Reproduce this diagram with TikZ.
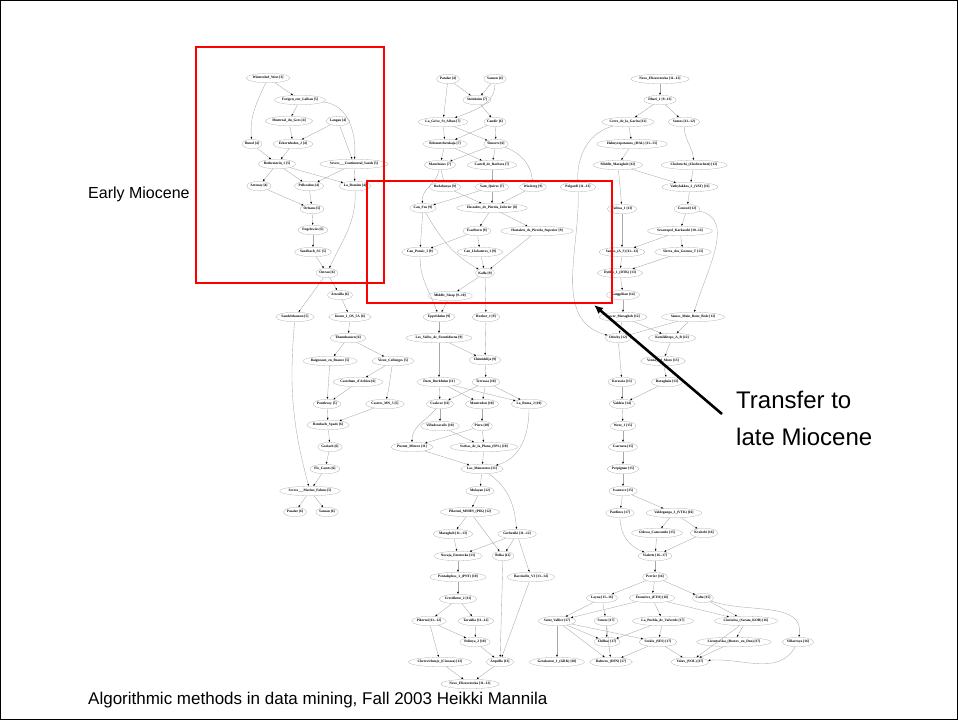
\documentclass[tikz,border=0pt]{standalone}
\usepackage{fontspec}
\setmainfont{Liberation Sans}
\newfontfamily\locfont{Liberation Serif}
\usepackage{tikz}
\usetikzlibrary{shapes.geometric, arrows.meta}
\definecolor{boxred}{HTML}{FF0000}
\definecolor{edgegray}{HTML}{A8A8A8}
\definecolor{ovalgray}{HTML}{B0B0B0}

\tikzset{
  loc/.style={ellipse, draw=ovalgray, line width=0.3pt, inner xsep=0pt, inner ysep=0.4pt,
    minimum height=9.5pt, font=\locfont\bfseries\fontsize{3.5}{3.5}\selectfont},
  link/.style={draw=edgegray, line width=0.35pt, -{Latex[length=2.2pt,width=1.8pt,color=black]}},
  period/.style={draw=boxred, line width=2.2pt},
  note/.style={anchor=west, inner sep=0pt}
}

\begin{document}
\begin{tikzpicture}[x=1pt,y=-1pt]
    \useasboundingbox (0,0) rectangle (958,720);
    \draw[black, line width=1pt] (0.5,0.5) rectangle (957.5,719.5);

    % early Miocene part
    \node[loc] (wintershof) at (268,78) {Wintershof\_West [3]};
    \node[loc] (forigen) at (300,100) {Forigen\_zur\_Laiban [5]};
    \node[loc] (montreal) at (289,121) {Montreal\_du\_Gers [4]};
    \node[loc] (langau) at (338,121) {Langau [4]};
    \node[loc] (bunol) at (252,144) {Bunol [4]};
    \node[loc] (erkert) at (293,144) {Erkertshofen\_2 [4]};
    \node[loc] (rothen) at (277,164) {Rothenstein\_1 [5]};
    \node[loc] (sevresc) at (354,164) {Sevres\_\_\_Continental\_Sands [5]};
    \node[loc] (artenay) at (259,186) {Artenay [4]};
    \node[loc] (pellec) at (309,186) {Pellecahus [4]};
    \node[loc] (romieu) at (355,186) {La\_Romieu [4]};
    \node[loc] (orleans) at (312,209) {Orleans [5]};
    \node[loc] (engels) at (313,230) {Engelswies [5]};
    \node[loc] (sandbach) at (313,252) {Sandbach\_SC [5]};
    \node[loc] (ostrau) at (327,273) {Ostrau [6]};
    \node[loc] (artes) at (340,295) {Artesilla [6]};
    \node[loc] (sandelz) at (295,317) {Sandelzhausen [5]};
    \node[loc] (inonu) at (350,317) {Inonu\_1\_OS\_5A [6]};
    \node[loc] (thann) at (348,338) {Thannhausen [6]};
    \node[loc] (baign) at (330,361) {Baigneaux\_en\_Beauce [5]};
    \node[loc] (vieux) at (393,361) {Vieux\_Collonges [5]};
    \node[loc] (castel) at (358,382) {Castelnau\_d'Arbieu [6]};
    \node[loc] (pontl) at (327,404) {Pontlevoy [5]};
    \node[loc] (castres) at (385,404) {Castres\_MN\_5 [5]};
    \node[loc] (rembach) at (328,425) {Rembach\_Spade [6]};
    \node[loc] (goriach) at (330,447) {Goriach [6]};
    \node[loc] (casots) at (325,469) {Els\_Casots [6]};
    \node[loc] (sevresm) at (310,491) {Sevres\_\_\_Marine\_Faluns [5]};
    \node[loc] (pasalar) at (295,512) {Pasalar [6]};
    \node[loc] (sansan) at (327,512) {Sansan [6]};

    \draw[link] (wintershof) edge (forigen) edge[out=-115,in=95] (bunol);
    \draw[link] (forigen) edge (montreal) edge[out=-5,in=85] (sevresc);
    \draw[link] (montreal) edge (erkert);
    \draw[link] (langau) edge (erkert) edge (sevresc);
    \draw[link] (bunol) edge (rothen);
    \draw[link] (erkert) edge (rothen);
    \draw[link] (rothen) edge (artenay) edge (pellec) edge (romieu);
    \draw[link] (sevresc) edge (pellec) edge (romieu);
    \draw[link] (artenay) edge (orleans);
    \draw[link] (pellec) edge (orleans);
    \draw[link] (romieu) edge[out=-88,in=65] (ostrau);
    \draw[link] (orleans) edge (engels);
    \draw[link] (engels) edge (sandbach);
    \draw[link] (sandbach) edge (ostrau);
    \draw[link] (ostrau) edge (artes) edge (sandelz);
    \draw[link] (artes) edge (inonu);
    \draw[link] (inonu) edge (thann);
    \draw[link] (thann) edge (baign) edge (vieux);
    \draw[link] (baign) edge (pontl);
    \draw[link] (vieux) edge (castel) edge[out=-100,in=75] (castres);
    \draw[link] (castel) edge (pontl);
    \draw[link] (pontl) edge (rembach);
    \draw[link] (castres) edge (rembach);
    \draw[link] (rembach) edge (goriach);
    \draw[link] (goriach) edge (casots);
    \draw[link] (casots) edge (sevresm);
    \draw[link] (sandelz) edge[out=-95,in=105] (sevresm);
    \draw[link] (sevresm) edge (pasalar) edge (sansan);

    % middle part
    \node[loc] (pandar) at (448,79) {Pandar [4]};
    \node[loc] (sanson) at (495,79) {Sanson [4]};
    \node[loc] (steinheim) at (477,100) {Steinheim [7]};
    \node[loc] (grive) at (443,122) {La\_Grive\_St\_Alban [7]};
    \node[loc] (candir) at (495,122) {Candir [6]};
    \node[loc] (belomet) at (445,144) {Belometchetskaja [7]};
    \node[loc] (simorre) at (496,144) {Simorre [6]};
    \node[loc] (manch) at (440,165) {Manchones [7]};
    \node[loc] (barbera) at (492,165) {Castell\_de\_Barbera [7]};
    \node[loc] (rudab) at (445,187) {Rudabanya [9]};
    \node[loc] (quirze) at (492,187) {Sant\_Quirze [7]};
    \node[loc] (wissb) at (533,187) {Wissberg [9]};
    \node[loc] (canfeu) at (423,208) {Can\_Feu [9]};
    \node[loc] (hostinf) at (492,208) {Hostalets\_de\_Pierola\_Inferior [8]};
    \node[loc] (esselb) at (477,231) {Esselborn [9]};
    \node[loc] (hostsup) at (537,231) {Hostalets\_de\_Pierola\_Superior [9]};
    \node[loc] (ponsic) at (420,252) {Can\_Ponsic\_I [9]};
    \node[loc] (llobat) at (480,252) {Can\_Llobateres\_I [9]};
    \node[loc] (kalfa) at (485,273) {Kalfa [9]};
    \node[loc] (sinap) at (450,296) {Middle\_Sinap [9--10]};
    \node[loc] (eppels) at (439,317) {Eppelsheim [9]};
    \node[loc] (buzhor) at (486,317) {Buzhor\_1 [9]};
    \node[loc] (valles) at (439,338) {Los\_Valles\_de\_Fuentiduena [9]};
    \node[loc] (chimis) at (485,360) {Chimishlija [9]};
    \node[loc] (dorn) at (439,382) {Dorn\_Durkheim [11]};
    \node[loc] (terrassa) at (486,382) {Terrassa [10]};
    \node[loc] (csakvar) at (440,404) {Csakvar [11]};
    \node[loc] (montred) at (482,404) {Montredon [10]};
    \node[loc] (roma) at (529,404) {La\_Roma\_2 [10]};
    \node[loc] (villadec) at (440,426) {Villadecavalls [10]};
    \node[loc] (piera) at (482,426) {Piera [10]};
    \node[loc] (puente) at (412,447) {Puente\_Minero [11]};
    \node[loc] (spl) at (484,447) {Sorbas\_de\_la\_Plana\_(SPL) [10]};
    \node[loc] (mansuet) at (482,469) {Los\_Mansuetos [11]};
    \node[loc] (molayan) at (480,491) {Molayan [12]};
    \node[loc] (pikmnhn) at (470,512) {Pikermi\_MNHN\_(PIK) [12]};
    \node[loc] (maragh) at (453,534) {Maragheh [11--13]};
    \node[loc] (grebeni) at (517,534) {Grebeniki [11--12]};
    \node[loc] (novaja) at (458,556) {Novaja\_Emetovka [13]};
    \node[loc] (belka) at (503,556) {Belka [12]};
    \node[loc] (pental) at (458,577) {Pentalophos\_1\_(PNT) [10]};
    \node[loc] (baccin) at (531,577) {Baccinello\_V3 [13--14]};
    \node[loc] (crev) at (458,599) {Crevillente\_2 [11]};
    \node[loc] (pikermi) at (429,621) {Pikermi [11--12]};
    \node[loc] (taraklia) at (476,621) {Taraklia [11--12]};
    \node[loc] (polinya) at (475,642) {Polinya\_2 [10]};
    \node[loc] (cherev) at (440,662) {Cherevichnoje\_(Ciucaea) [12]};
    \node[loc] (arquillo) at (500,662) {Arquillo [13]};
    \node[loc] (novo) at (470,684) {Novo\_Elizavetovka [11--12]};

    \draw[link] (pandar) edge (steinheim) edge (grive);
    \draw[link] (sanson) edge (steinheim) edge[out=-90,in=20] (grive);
    \draw[link] (steinheim) edge (candir);
    \draw[link] (grive) edge (belomet) edge (simorre);
    \draw[link] (candir) edge (belomet) edge (simorre);
    \draw[link] (belomet) edge (manch) edge (barbera);
    \draw[link] (simorre) edge (manch) edge (barbera) edge[out=-20,in=95] (wissb);
    \draw[link] (manch) edge (rudab) edge[out=-100,in=95] (canfeu);
    \draw[link] (barbera) edge (quirze);
    \draw[link] (quirze) edge (canfeu) edge (hostinf);
    \draw[link] (rudab) edge (hostinf);
    \draw[link] (wissb) edge (hostinf);
    \draw[link] (canfeu) edge (ponsic) edge[out=-60,in=150] (kalfa);
    \draw[link] (hostinf) edge (esselb) edge (hostsup);
    \draw[link] (esselb) edge (ponsic) edge (llobat);
    \draw[link] (hostsup) edge (kalfa);
    \draw[link] (llobat) edge (kalfa);
    \draw[link] (kalfa) edge (sinap) edge (buzhor);
    \draw[link] (ponsic) edge[out=-90,in=110] (eppels);
    \draw[link] (sinap) edge (eppels);
    \draw[link] (eppels) edge (valles);
    \draw[link] (valles) edge (dorn) edge (chimis);
    \draw[link] (buzhor) edge (chimis);
    \draw[link] (chimis) edge (terrassa);
    \draw[link] (dorn) edge (csakvar) edge (montred) edge (roma);
    \draw[link] (terrassa) edge (csakvar) edge (montred) edge (roma);
    \draw[link] (csakvar) edge (villadec) edge[out=-130,in=90] (puente);
    \draw[link] (montred) edge (piera);
    \draw[link] (villadec) edge (spl);
    \draw[link] (piera) edge (puente) edge (spl);
    \draw[link] (puente) edge (mansuet);
    \draw[link] (spl) edge (mansuet);
    \draw[link] (roma) edge[out=-90,in=15] (mansuet);
    \draw[link] (mansuet) edge (molayan) edge[out=-35,in=95] (grebeni);
    \draw[link] (molayan) edge (pikmnhn);
    \draw[link] (pikmnhn) edge (maragh) edge (belka);
    \draw[link] (maragh) edge (novaja);
    \draw[link] (grebeni) edge (novaja) edge (belka) edge (baccin);
    \draw[link] (novaja) edge (pental);
    \draw[link] (pental) edge (crev);
    \draw[link] (crev) edge (pikermi) edge (taraklia);
    \draw[link] (pikermi) edge (polinya) edge (cherev);
    \draw[link] (taraklia) edge (polinya);
    \draw[link] (polinya) edge (arquillo);
    \draw[link] (belka) edge (arquillo);
    \draw[link] (baccin) edge (arquillo);
    \draw[link] (cherev) edge (novo);
    \draw[link] (arquillo) edge (novo);

    % late Miocene part
    \node[loc] (novo2) at (660,79) {Novo\_Elizavetovka [11--12]};
    \node[loc] (dhari) at (660,100) {Dhari\_1 [9--13]};
    \node[loc] (garita) at (628,122) {Cerro\_de\_la\_Garita [12]};
    \node[loc] (samos) at (684,122) {Samos [11--12]};
    \node[loc] (halmy) at (632,144) {Halmyropotamos\_(HAL) [11--13]};
    \node[loc] (midmar) at (618,165) {Middle\_Maragheh [12]};
    \node[loc] (chobr) at (694,165) {Chobruchi\_(Chobrucheni) [12]};
    \node[loc] (polgardi) at (578,187) {Polgardi [11--13]};
    \node[loc] (vathy) at (690,187) {Vathylakkos\_2\_(VAT) [11]};
    \node[loc] (vallesa) at (622,209) {Vallesa\_1 [13]};
    \node[loc] (concud) at (687,209) {Concud [12]};
    \node[loc] (sevast) at (680,231) {Sevastopol\_Karkaschi [10--14]};
    \node[loc] (samosas) at (622,252) {Samos\_(A\_S) [11--12]};
    \node[loc] (sierra) at (683,252) {Sierra\_dos\_Guenos\_T [13]};
    \node[loc] (dytiko) at (620,273) {Dytiko\_1\_(DTK) [13]};
    \node[loc] (kangp) at (623,295) {Kangpilian [14]};
    \node[loc] (lowmar) at (623,317) {Lower\_Maragheh [12]};
    \node[loc] (samosmbb) at (693,317) {Samos\_Main\_Bone\_Beds [12]};
    \node[loc] (odeshy) at (618,338) {Odeshy [12]};
    \node[loc] (kemik) at (672,338) {Kemiklitepe\_A\_B [12]};
    \node[loc] (venta) at (663,361) {Venta\_del\_Moro [13]};
    \node[loc] (kerassia) at (622,382) {Kerassia [13]};
    \node[loc] (baragh) at (667,382) {Baraghala [13]};
    \node[loc] (valdeia) at (622,404) {Valdeia [14]};
    \node[loc] (weze) at (623,426) {Weze\_1 [15]};
    \node[loc] (csarnota) at (623,447) {Csarnota [15]};
    \node[loc] (perpig) at (623,469) {Perpignan [15]};
    \node[loc] (ivanov) at (623,491) {Ivanovce [15]};
    \node[loc] (pardines) at (620,513) {Pardines [17]};
    \node[loc] (vtk) at (674,513) {Valdeganga\_3\_(VTK) [16]};
    \node[loc] (odessa) at (657,533) {Odessa\_Catacombs [15]};
    \node[loc] (kvabebi) at (704,533) {Kvabebi [16]};
    \node[loc] (vialette) at (655,556) {Vialette [16--17]};
    \node[loc] (perrier) at (655,577) {Perrier [16]};
    \node[loc] (layna) at (602,598) {Layna [15--16]};
    \node[loc] (etouair) at (652,598) {Etouaires\_(ETO) [16]};
    \node[loc] (calta) at (703,598) {Calta [15]};
    \node[loc] (stvall) at (557,621) {Saint\_Vallier [17]};
    \node[loc] (seneze) at (606,621) {Seneze [17]};
    \node[loc] (puebla) at (663,621) {La\_Puebla\_de\_Valverde [17]};
    \node[loc] (ciuciu) at (746,621) {Ciuciulea\_(Sarata\_KOR) [16]};
    \node[loc] (chilhac) at (607,642) {Chilhac [17]};
    \node[loc] (sesklo) at (658,642) {Sesklo\_(SES) [17]};
    \node[loc] (livents) at (734,642) {Liventsovka\_(Rostov\_on\_Don) [17]};
    \node[loc] (villarr) at (798,642) {Villarroya [16]};
    \node[loc] (gerak) at (557,662) {Gerakarou\_1\_(GRK) [18]};
    \node[loc] (dafnero) at (611,662) {Dafnero\_(DFN) [17]};
    \node[loc] (volax) at (690,662) {Volax\_(VOL) [17]};

    \draw[link] (novo2) edge (dhari);
    \draw[link] (dhari) edge (garita) edge (samos);
    \draw[link] (garita) edge (halmy) edge[out=-165,in=92] (polgardi);
    \draw[link] (samos) edge[out=-88,in=95] (chobr);
    \draw[link] (halmy) edge (midmar);
    \draw[link] (midmar) edge (vathy) edge (vallesa);
    \draw[link] (chobr) edge (vathy);
    \draw[link] (vathy) edge (concud);
    \draw[link] (polgardi) edge[out=-88,in=165] (odeshy);
    \draw[link] (vallesa) edge (samosas);
    \draw[link] (concud) edge (sevast) edge[out=-10,in=75] (samosmbb);
    \draw[link] (sevast) edge (samosas) edge (sierra);
    \draw[link] (samosas) edge (dytiko);
    \draw[link] (sierra) edge (dytiko);
    \draw[link] (dytiko) edge (kangp);
    \draw[link] (kangp) edge (lowmar);
    \draw[link] (lowmar) edge (odeshy) edge (kemik);
    \draw[link] (samosmbb) edge (odeshy) edge (kemik);
    \draw[link] (odeshy) edge (kerassia);
    \draw[link] (kemik) edge (venta);
    \draw[link] (venta) edge (baragh);
    \draw[link] (kerassia) edge (valdeia);
    \draw[link] (baragh) edge (valdeia);
    \draw[link] (valdeia) edge (weze);
    \draw[link] (weze) edge (csarnota);
    \draw[link] (csarnota) edge (perpig);
    \draw[link] (perpig) edge (ivanov);
    \draw[link] (ivanov) edge (pardines) edge (vtk);
    \draw[link] (vtk) edge (odessa) edge (kvabebi);
    \draw[link] (pardines) edge[out=-90,in=160] (vialette);
    \draw[link] (odessa) edge (vialette);
    \draw[link] (kvabebi) edge (vialette);
    \draw[link] (vialette) edge (perrier);
    \draw[link] (perrier) edge (layna) edge (etouair) edge (calta);
    \draw[link] (layna) edge (stvall) edge (seneze);
    \draw[link] (etouair) edge (stvall) edge (puebla) edge (ciuciu);
    \draw[link] (calta) edge (ciuciu) edge[out=-20,in=80] (villarr);
    \draw[link] (stvall) edge (chilhac) edge (sesklo) edge (gerak) edge (dafnero);
    \draw[link] (seneze) edge (chilhac) edge (dafnero);
    \draw[link] (puebla) edge (sesklo) edge (chilhac);
    \draw[link] (ciuciu) edge (livents) edge (volax);
    \draw[link] (sesklo) edge (dafnero) edge (volax);
    \draw[link] (livents) edge (volax);
    \draw[link] (villarr) edge[out=-120,in=5] (volax);

    % periods
    \draw[period] (196,47) rectangle (384,283);
    \draw[period] (367,181) rectangle (612,303);
    \node[note, font=\fontsize{16}{19}\selectfont] (early) at (88,194) {Early Miocene};
    \node[note, font=\fontsize{24}{28}\selectfont] (transfer) at (736,400) {Transfer to};
    \node[note, font=\fontsize{24}{28}\selectfont] (latemio) at (736,437) {late Miocene};
    \coordinate (tailpt) at (722,414);
    \coordinate (headpt) at (594,305);
    \draw[line width=2.6pt, -{Latex[length=9pt,width=8pt]}] (tailpt) -- (headpt);

    \node[note, font=\fontsize{17}{20}\selectfont] (footer) at (88,700) {Algorithmic methods in data mining, Fall 2003 Heikki Mannila};
\end{tikzpicture}
\end{document}
